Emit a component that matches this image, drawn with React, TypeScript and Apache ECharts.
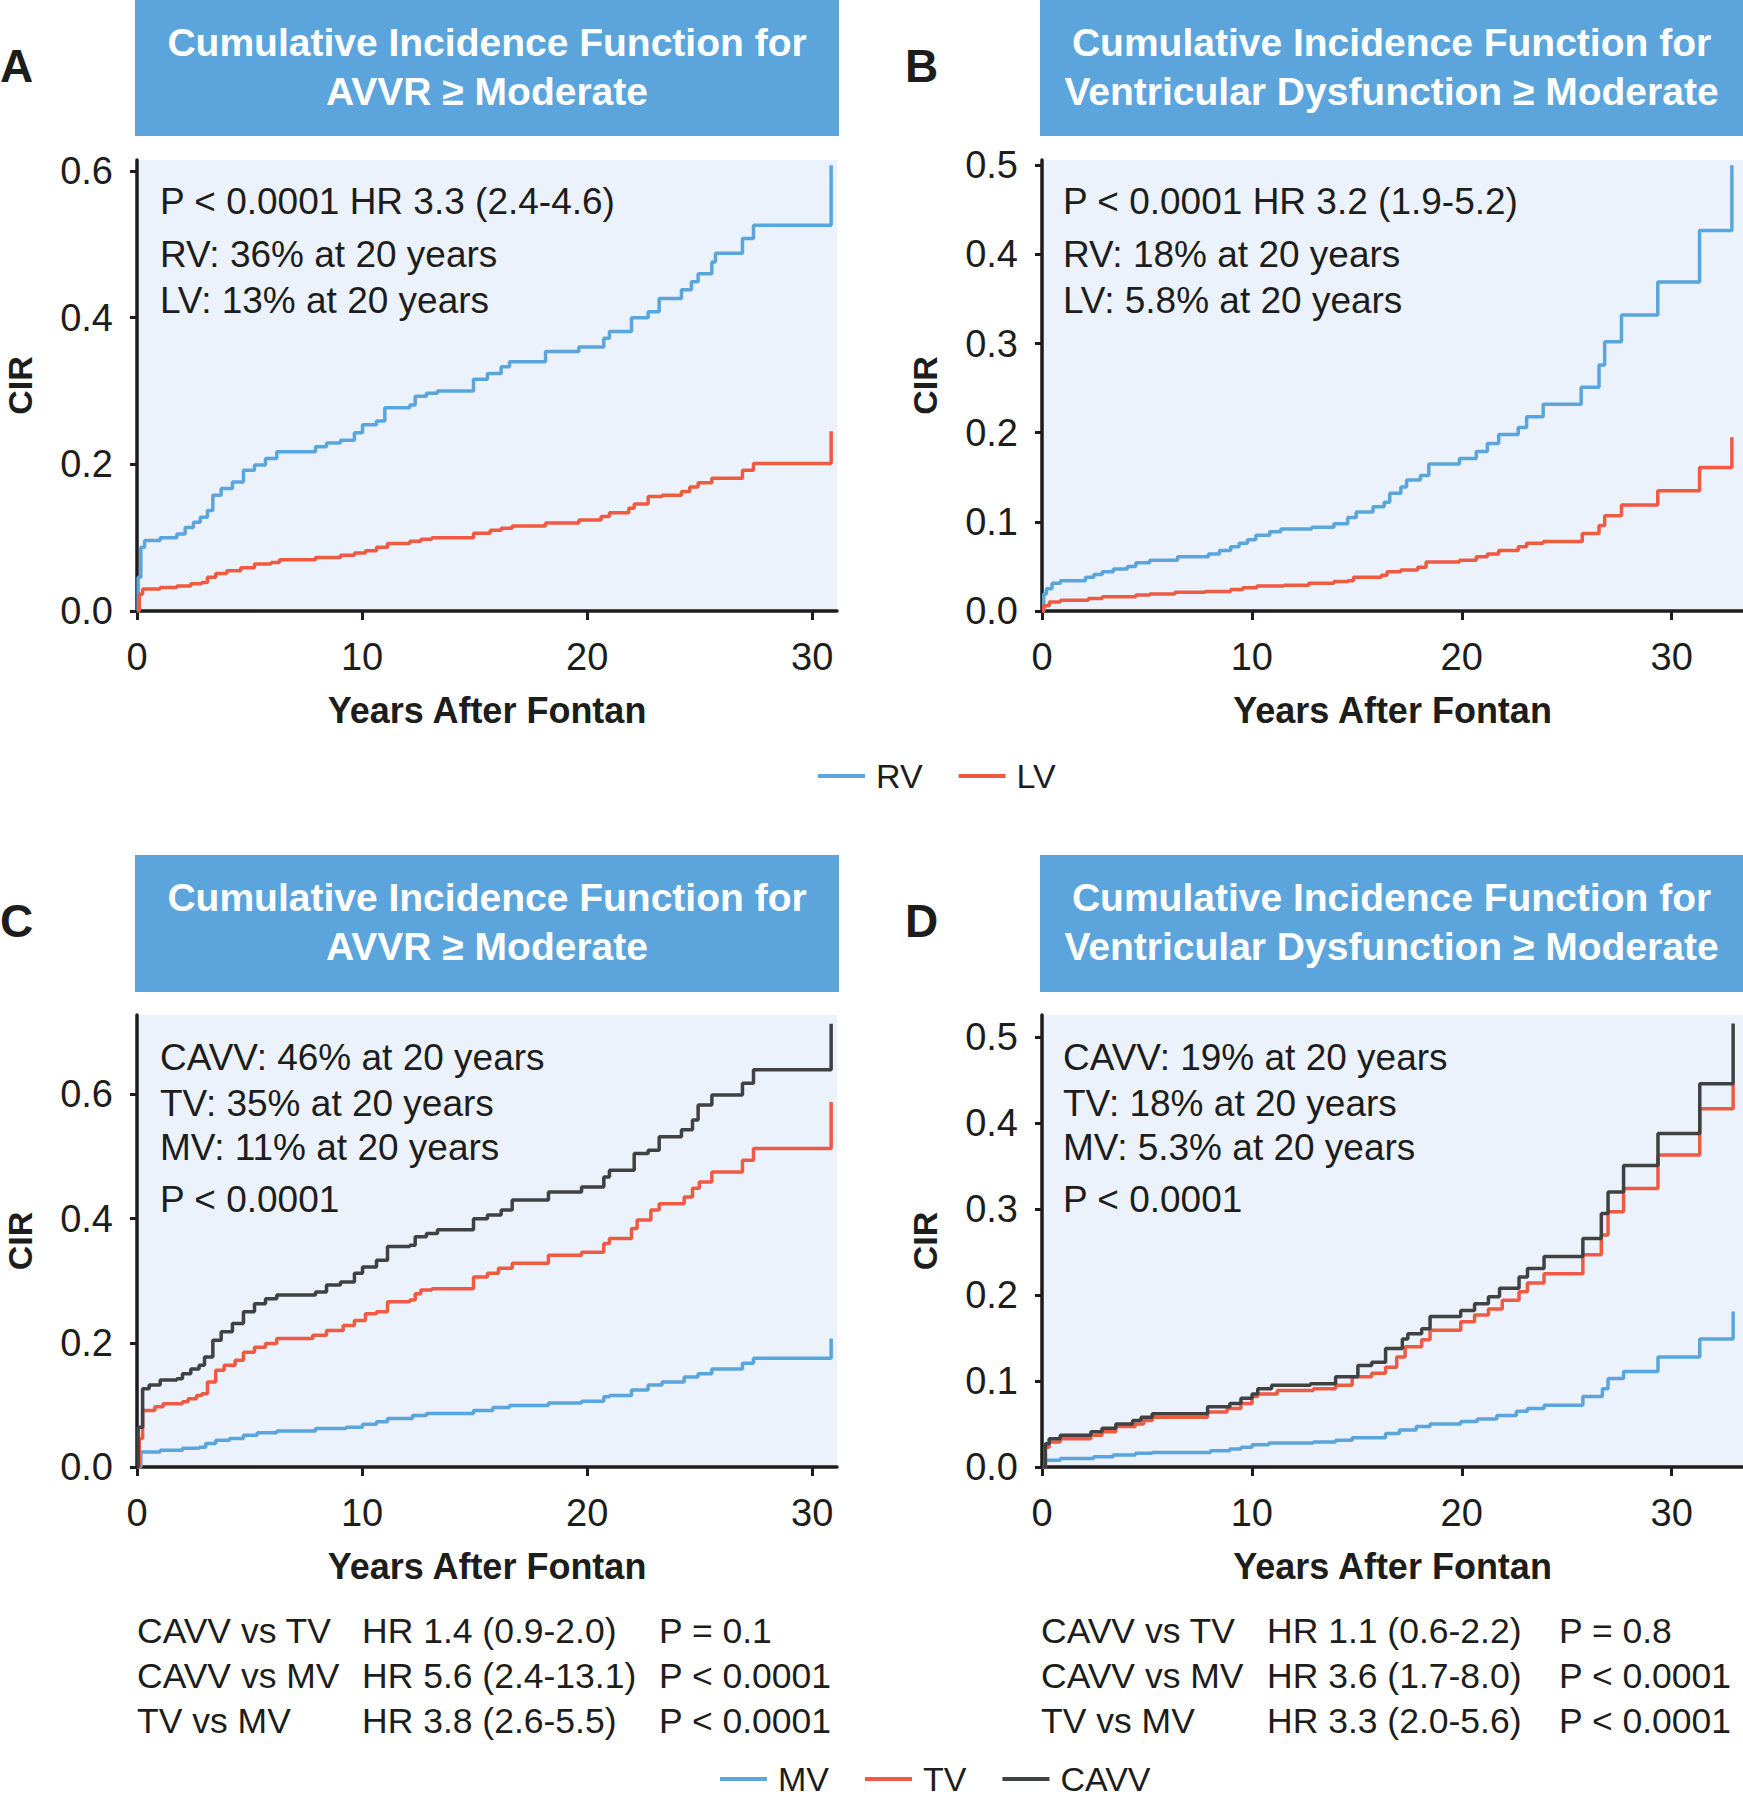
import React, { useEffect, useRef } from "react";
import * as echarts from "echarts";

const FONT = '"Liberation Sans", Arial, sans-serif';
const BLUE = "#5aa5dc";
const RED = "#ef5a42";
const DARK = "#404143";
const BOX = "#5ba5dc";
const BG = "#ebf2fb";
const INK = "#1d1d1b";

// ---------- data: [years after Fontan, cumulative incidence] ----------
const aRV: [number, number][] = [[0,0],[0.05,0.046],[0.17,0.087],[0.34,0.096],[1.03,0.1],[1.77,0.105],[2.14,0.114],[2.51,0.121],[2.81,0.128],[3.13,0.137],[3.37,0.158],[3.74,0.167],[4.24,0.176],[4.73,0.192],[5.22,0.199],[5.71,0.208],[6.21,0.217],[7.93,0.224],[8.42,0.229],[9.04,0.233],[9.66,0.243],[10.02,0.254],[10.64,0.259],[11.01,0.277],[12.12,0.281],[12.36,0.293],[12.86,0.297],[13.35,0.3],[14.95,0.316],[15.57,0.324],[16.18,0.333],[16.55,0.34],[18.15,0.354],[19.63,0.36],[20.74,0.372],[20.99,0.381],[21.97,0.4],[22.71,0.408],[23.2,0.426],[24.19,0.438],[24.63,0.449],[24.93,0.46],[25.54,0.476],[25.7,0.488],[26.9,0.508],[27.39,0.526],[30.84,0.608]];
const aLV: [number, number][] = [[0,0],[0.1,0.023],[0.25,0.03],[1.03,0.032],[1.77,0.034],[2.39,0.037],[2.88,0.039],[3.13,0.046],[3.5,0.051],[3.99,0.055],[4.61,0.059],[5.22,0.064],[5.96,0.066],[6.33,0.07],[7.93,0.073],[9.04,0.076],[9.66,0.079],[10.15,0.082],[10.64,0.087],[11.13,0.092],[12.12,0.095],[12.61,0.098],[13.1,0.1],[14.95,0.106],[15.69,0.11],[16.18,0.113],[16.67,0.116],[18.15,0.12],[19.63,0.124],[20.62,0.129],[20.99,0.134],[21.85,0.14],[22.09,0.146],[22.71,0.156],[23.33,0.158],[24.19,0.163],[24.56,0.169],[24.93,0.175],[25.54,0.181],[26.9,0.192],[27.39,0.201],[30.84,0.245]];

const bRV: [number, number][] = [[0,0],[0.08,0.019],[0.21,0.025],[0.48,0.031],[0.88,0.034],[2.07,0.038],[2.47,0.041],[2.87,0.044],[3.4,0.047],[4.07,0.05],[4.47,0.054],[5.13,0.057],[6.46,0.061],[7.93,0.064],[8.46,0.068],[8.99,0.072],[9.39,0.076],[9.79,0.08],[10.19,0.085],[10.85,0.089],[11.38,0.092],[12.85,0.094],[13.91,0.098],[14.57,0.105],[14.97,0.111],[15.77,0.117],[16.3,0.122],[16.57,0.132],[17.1,0.139],[17.37,0.147],[18.03,0.152],[18.43,0.165],[19.89,0.171],[20.69,0.179],[21.22,0.188],[21.76,0.198],[22.69,0.206],[23.09,0.218],[23.88,0.232],[25.69,0.251],[26.54,0.276],[26.81,0.302],[27.61,0.332],[29.34,0.369],[31.33,0.427],[32.87,0.5]];
const bLV: [number, number][] = [[0,0],[0.08,0.006],[0.35,0.01],[0.88,0.012],[2.21,0.014],[2.87,0.016],[4.47,0.018],[5.13,0.019],[6.33,0.021],[7.79,0.022],[8.99,0.024],[9.57,0.026],[10.24,0.028],[11.52,0.029],[12.71,0.031],[13.91,0.033],[14.57,0.034],[14.84,0.038],[16.17,0.04],[16.44,0.044],[17.1,0.046],[17.9,0.049],[18.3,0.055],[19.89,0.057],[20.69,0.061],[21.22,0.064],[21.76,0.068],[22.69,0.072],[23.09,0.076],[23.88,0.078],[25.74,0.087],[26.54,0.096],[26.81,0.107],[27.61,0.119],[29.34,0.135],[31.33,0.161],[32.87,0.195]];

const cCAVV: [number, number][] = [[0,0],[0.05,0.064],[0.25,0.126],[0.54,0.132],[1.03,0.14],[1.77,0.142],[2.02,0.15],[2.39,0.158],[2.76,0.164],[3.0,0.177],[3.37,0.204],[3.74,0.218],[4.24,0.231],[4.73,0.25],[5.22,0.263],[5.71,0.271],[6.21,0.277],[7.93,0.282],[8.42,0.293],[9.04,0.298],[9.66,0.312],[10.02,0.322],[10.64,0.333],[11.13,0.355],[12.12,0.357],[12.36,0.371],[12.86,0.376],[13.35,0.382],[14.95,0.4],[15.57,0.406],[16.18,0.414],[16.67,0.43],[18.28,0.443],[19.75,0.451],[20.74,0.467],[20.99,0.478],[22.09,0.505],[22.71,0.51],[23.2,0.532],[24.19,0.543],[24.68,0.559],[24.93,0.583],[25.54,0.599],[26.9,0.618],[27.39,0.64],[30.84,0.714]];
const cTV: [number, number][] = [[0,0],[0.1,0.046],[0.25,0.091],[0.79,0.097],[1.16,0.102],[2.02,0.105],[2.27,0.11],[2.64,0.115],[2.88,0.118],[3.13,0.137],[3.5,0.156],[3.87,0.164],[4.36,0.172],[4.73,0.185],[5.22,0.193],[5.71,0.199],[6.21,0.207],[7.81,0.212],[8.42,0.22],[9.16,0.228],[9.66,0.236],[10.15,0.247],[10.64,0.25],[11.13,0.266],[12.12,0.269],[12.36,0.279],[12.61,0.285],[13.1,0.287],[14.95,0.306],[15.57,0.312],[16.06,0.32],[16.67,0.328],[18.28,0.341],[19.75,0.346],[20.74,0.36],[20.99,0.368],[21.97,0.384],[22.22,0.398],[22.83,0.414],[23.2,0.424],[24.31,0.435],[24.68,0.449],[24.98,0.459],[25.54,0.475],[26.9,0.494],[27.39,0.513],[30.84,0.588]];
const cMV: [number, number][] = [[0,0],[0.17,0.024],[1.03,0.027],[2.02,0.03],[2.76,0.032],[3.05,0.038],[3.5,0.043],[4.11,0.046],[4.73,0.051],[5.34,0.055],[6.21,0.058],[7.93,0.062],[9.29,0.064],[10.02,0.069],[10.64,0.073],[11.13,0.078],[12.24,0.083],[12.86,0.086],[14.95,0.091],[15.81,0.096],[16.55,0.099],[18.28,0.103],[19.75,0.106],[20.74,0.113],[20.99,0.115],[21.97,0.124],[22.71,0.132],[23.33,0.137],[24.31,0.145],[24.93,0.15],[25.54,0.158],[26.9,0.167],[27.39,0.175],[30.84,0.207]];

const dCAVV: [number, number][] = [[0,0],[0.16,0.027],[0.34,0.033],[0.87,0.037],[2.33,0.041],[2.86,0.045],[3.52,0.05],[4.32,0.054],[4.72,0.058],[5.25,0.062],[7.89,0.07],[8.95,0.074],[9.48,0.08],[10.01,0.085],[10.28,0.091],[10.94,0.095],[12.79,0.097],[13.99,0.105],[15.05,0.118],[15.71,0.122],[16.37,0.138],[17.17,0.149],[17.43,0.155],[18.09,0.161],[18.49,0.175],[19.95,0.182],[20.61,0.19],[21.27,0.198],[21.8,0.208],[22.73,0.221],[23.13,0.231],[23.92,0.245],[25.77,0.266],[26.65,0.295],[26.97,0.32],[27.71,0.351],[29.35,0.388],[31.34,0.446],[32.93,0.516]];
const dTV: [number, number][] = [[0,0],[0.16,0.023],[0.34,0.029],[0.87,0.033],[2.33,0.037],[2.86,0.041],[3.52,0.047],[4.45,0.05],[4.85,0.054],[5.25,0.058],[7.89,0.064],[8.82,0.068],[9.48,0.074],[10.01,0.082],[10.28,0.085],[11.21,0.089],[12.93,0.091],[13.99,0.095],[14.78,0.105],[15.71,0.109],[16.37,0.116],[16.9,0.128],[17.3,0.14],[18.09,0.148],[18.49,0.159],[19.95,0.169],[20.61,0.177],[21.27,0.184],[21.93,0.194],[22.73,0.204],[23.13,0.214],[23.92,0.225],[25.77,0.247],[26.65,0.27],[26.97,0.297],[27.71,0.324],[29.35,0.363],[31.34,0.417],[32.93,0.446]];
const dMV: [number, number][] = [[0,0],[0.16,0.008],[0.87,0.01],[2.46,0.012],[3.39,0.014],[4.45,0.016],[5.25,0.017],[8.03,0.019],[8.95,0.021],[9.48,0.023],[10.01,0.026],[10.81,0.028],[12.93,0.029],[13.99,0.031],[14.78,0.034],[16.37,0.039],[17.03,0.043],[17.83,0.047],[18.49,0.05],[19.95,0.053],[20.74,0.056],[21.67,0.06],[22.6,0.065],[23.13,0.068],[23.92,0.072],[25.77,0.082],[26.7,0.091],[26.97,0.103],[27.71,0.111],[29.35,0.128],[31.34,0.149],[32.93,0.181]];

// ---------- ticks & texts ----------
const xTicks = [0, 10, 20, 30];
const yTicksAC = [0, 0.2, 0.4, 0.6];
const yTicksBD = [0, 0.1, 0.2, 0.3, 0.4, 0.5];
const panelLetters = ["A", "B", "C", "D"];
const titles = [
  ["Cumulative Incidence Function for", "AVVR \u2265 Moderate"],
  ["Cumulative Incidence Function for", "Ventricular Dysfunction \u2265 Moderate"],
  ["Cumulative Incidence Function for", "AVVR \u2265 Moderate"],
  ["Cumulative Incidence Function for", "Ventricular Dysfunction \u2265 Moderate"],
];
const notes = [
  ["P < 0.0001 HR 3.3 (2.4-4.6)", "RV: 36% at 20 years", "LV: 13% at 20 years"],
  ["P < 0.0001 HR 3.2 (1.9-5.2)", "RV: 18% at 20 years", "LV: 5.8% at 20 years"],
  ["CAVV: 46% at 20 years", "TV: 35% at 20 years", "MV: 11% at 20 years", "P < 0.0001"],
  ["CAVV: 19% at 20 years", "TV: 18% at 20 years", "MV: 5.3% at 20 years", "P < 0.0001"],
];
const tableC = [
  ["CAVV vs TV", "HR 1.4 (0.9-2.0)", "P = 0.1"],
  ["CAVV vs MV", "HR 5.6 (2.4-13.1)", "P < 0.0001"],
  ["TV vs MV", "HR 3.8 (2.6-5.5)", "P < 0.0001"],
];
const tableD = [
  ["CAVV vs TV", "HR 1.1 (0.6-2.2)", "P = 0.8"],
  ["CAVV vs MV", "HR 3.6 (1.7-8.0)", "P < 0.0001"],
  ["TV vs MV", "HR 3.3 (2.0-5.6)", "P < 0.0001"],
];

// ---------- layout ----------
const grids = [
  { left: 137, top: 160, width: 700, height: 451 },
  { left: 1042, top: 160, width: 701, height: 451 },
  { left: 137, top: 1015, width: 700, height: 452 },
  { left: 1042, top: 1015, width: 701, height: 452 },
];
const xMax = [31.1, 33.4, 31.1, 33.4];
const yMax = [0.615, 0.506, 0.728, 0.526];
const yTickSets = [yTicksAC, yTicksBD, yTicksAC, yTicksBD];
const boxes = [
  { x: 135, y: 0, w: 704, h: 136 },
  { x: 1040, y: 0, w: 703, h: 136 },
  { x: 135, y: 855, w: 704, h: 137 },
  { x: 1040, y: 855, w: 703, h: 137 },
];
const letterPos = [
  { x: 0, y: 66 },
  { x: 905, y: 66 },
  { x: 0, y: 921 },
  { x: 905, y: 921 },
];
const noteX = [160, 1063, 160, 1063];
const noteY = [[201, 254, 300], [201, 254, 300], [1057, 1103, 1147, 1199], [1057, 1103, 1147, 1199]];
const tableRowsY = [1631, 1676, 1721];
const tableColsC = [137, 362, 659];
const tableColsD = [1041, 1267, 1559];

function txt(text: string, x: number, y: number, size: number, opts: any = {}) {
  return {
    type: "text",
    x,
    y,
    silent: true,
    style: {
      text,
      fontSize: size,
      fontFamily: FONT,
      fontWeight: opts.bold ? "bold" : "normal",
      fill: opts.fill || INK,
      align: opts.align || "left",
      verticalAlign: "middle",
    },
  };
}

function buildOption() {
  const xAxis = grids.map((_, i) => ({
    type: "value",
    gridIndex: i,
    min: 0,
    max: xMax[i],
    interval: 10,
    offset: 2,
    axisLine: { show: true, lineStyle: { color: INK, width: 3.5 } },
    axisTick: { show: true, length: 9, lineStyle: { color: INK, width: 3 }, customValues: xTicks },
    axisLabel: { fontSize: 38, color: INK, fontFamily: FONT, margin: 25, customValues: xTicks },
    splitLine: { show: false },
    name: "Years After Fontan",
    nameLocation: "middle",
    nameGap: 79,
    nameTextStyle: { fontSize: 36, fontWeight: "bold", color: INK, fontFamily: FONT },
  }));
  const yAxis = grids.map((_, i) => ({
    type: "value",
    gridIndex: i,
    min: 0,
    max: yMax[i],
    interval: i % 2 === 0 ? 0.2 : 0.1,
    axisLine: { show: true, lineStyle: { color: INK, width: 3.5 } },
    axisTick: { show: true, length: 7, lineStyle: { color: INK, width: 3 }, customValues: yTickSets[i] },
    axisLabel: {
      fontSize: 38,
      color: INK,
      fontFamily: FONT,
      margin: 24,
      customValues: yTickSets[i],
      formatter: (v: number) => v.toFixed(1),
    },
    splitLine: { show: false },
    name: "CIR",
    nameLocation: "middle",
    nameRotate: 90,
    nameGap: 100,
    nameTextStyle: { fontSize: 34, fontWeight: "bold", color: INK, fontFamily: FONT },
  }));

  const mk = (name: string, data: [number, number][], color: string, gi: number) => ({
    type: "line",
    name,
    xAxisIndex: gi,
    yAxisIndex: gi,
    data,
    step: "end",
    showSymbol: false,
    symbol: "none",
    lineStyle: { color, width: 3.5 },
    itemStyle: { color },
    z: 3,
  });

  const series = [
    mk("RV", aRV, BLUE, 0),
    mk("LV", aLV, RED, 0),
    mk("RV", bRV, BLUE, 1),
    mk("LV", bLV, RED, 1),
    mk("MV", cMV, BLUE, 2),
    mk("TV", cTV, RED, 2),
    mk("CAVV", cCAVV, DARK, 2),
    mk("MV", dMV, BLUE, 3),
    mk("TV", dTV, RED, 3),
    mk("CAVV", dCAVV, DARK, 3),
  ];

  const graphics: any[] = [];
  boxes.forEach((b, i) => {
    graphics.push({ type: "rect", silent: true, shape: { x: b.x, y: b.y, width: b.w, height: b.h }, style: { fill: BOX } });
    const cx = b.x + b.w / 2;
    graphics.push(txt(titles[i][0], cx, b.y + 42, 39, { bold: true, fill: "#ffffff", align: "center" }));
    graphics.push(txt(titles[i][1], cx, b.y + 91, 39, { bold: true, fill: "#ffffff", align: "center" }));
    graphics.push(txt(panelLetters[i], letterPos[i].x, letterPos[i].y, 46, { bold: true }));
    notes[i].forEach((t, k) => graphics.push(txt(t, noteX[i], noteY[i][k], 37)));
  });
  tableC.forEach((row, r) => row.forEach((t, c) => graphics.push(txt(t, tableColsC[c], tableRowsY[r], 35.5))));
  tableD.forEach((row, r) => row.forEach((t, c) => graphics.push(txt(t, tableColsD[c], tableRowsY[r], 35.5))));

  const legendBase = {
    icon: "rect",
    itemWidth: 47,
    itemHeight: 4,
    padding: 0,
    selectedMode: false,
    textStyle: { fontSize: 34, color: INK, fontFamily: FONT, padding: [0, 0, 0, 6] },
  };

  return {
    animation: false,
    textStyle: { fontFamily: FONT },
    grid: grids.map((g) => ({ ...g, show: true, backgroundColor: BG, borderWidth: 0, containLabel: false })),
    xAxis,
    yAxis,
    series,
    legend: [
      { ...legendBase, data: ["RV", "LV"], left: 818, top: 759, itemGap: 36 },
      { ...legendBase, data: ["MV", "TV", "CAVV"], left: 720, top: 1762, itemGap: 36 },
    ],
    graphic: graphics,
  };
}

export default function App() {
  const ref = useRef<HTMLDivElement>(null);
  useEffect(() => {
    document.body.style.margin = "0";
    const chart = echarts.init(ref.current as HTMLDivElement, null, { renderer: "svg" });
    chart.setOption(buildOption() as any);
    return () => chart.dispose();
  }, []);
  return <div ref={ref} style={{ width: 1743, height: 1800 }} />;
}
